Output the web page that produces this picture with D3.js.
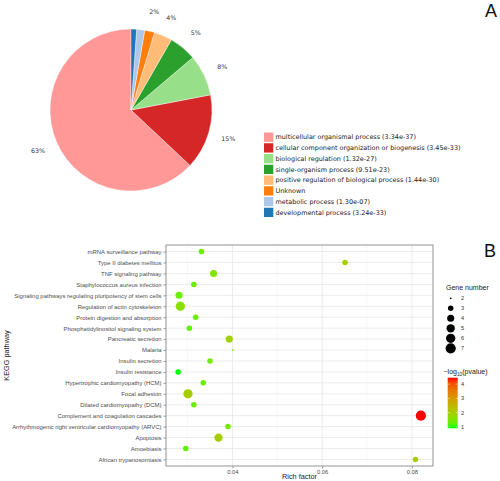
<!DOCTYPE html>
<html>
<head>
<meta charset="utf-8">
<script src="https://cdn.jsdelivr.net/npm/d3@7"></script>
<style>
html,body{margin:0;padding:0;background:#fff;}
svg{display:block;}
</style>
</head>
<body>
<svg id="chart" width="500" height="481"></svg>
<script>
// ---------- Panel A data ----------
const goTerms = [
  "multicellular organismal process (3.34e-37)",
  "cellular component organization or biogenesis (3.45e-33)",
  "biological regulation (1.32e-27)",
  "single-organism process (9.51e-23)",
  "positive regulation of biological process (1.44e-30)",
  "Unknown",
  "metabolic process (1.30e-07)",
  "developmental process (3.24e-33)"
];
const goShares = [63, 15, 8.2, 5.5, 3.6, 2.0, 1.6, 1.1];
const goPctLabels = ["63%", "15%", "8%", "5%", "4%", "2%", "", ""];
const goColors = ["#ff9896", "#d62728", "#98df8a", "#2ca02c", "#ffbb78", "#ff7f0e", "#aec7e8", "#1f77b4"];

// ---------- Panel B data ----------
const pathways = [
  "mRNA surveillance pathway",
  "Type II diabetes mellitus",
  "TNF signaling pathway",
  "Staphylococcus aureus infection",
  "Signaling pathways regulating pluripotency of stem cells",
  "Regulation of actin cytoskeleton",
  "Protein digestion and absorption",
  "Phosphatidylinositol signaling system",
  "Pancreatic secretion",
  "Malaria",
  "Insulin secretion",
  "Insulin resistance",
  "Hypertrophic cardiomyopathy (HCM)",
  "Focal adhesion",
  "Dilated cardiomyopathy (DCM)",
  "Complement and coagulation cascades",
  "Arrhythmogenic right ventricular cardiomyopathy (ARVC)",
  "Apoptosis",
  "Amoebiasis",
  "African trypanosomiasis"
];
const richFactor = [0.0331, 0.0651, 0.0358, 0.0314, 0.0281, 0.0284, 0.0318, 0.0304, 0.0393, 0.0401,
                    0.0350, 0.0279, 0.0335, 0.0301, 0.0314, 0.0820, 0.0390, 0.0369, 0.0296, 0.0808];
const geneNumber = [3, 3, 4, 3, 4, 6, 3, 3, 4, 2, 3, 3, 3, 6, 3, 7, 3, 5, 3, 3];
const negLogP = [1.3, 2.0, 1.5, 1.3, 1.3, 1.6, 1.3, 1.2, 1.9, 1.3, 1.4, 0.9, 1.3, 2.0, 1.3, 4.45, 1.4, 2.0, 1.2, 2.0];
const xTicks = [0.04, 0.06, 0.08];
const xMinorTicks = [0.03, 0.05, 0.07];
const sizeBreaks = [2, 3, 4, 5, 6, 7];
const colorBreaks = [1, 2, 3, 4];

const svg = d3.select("#chart");

// ================= Panel A: pie =================
const pieFont = "'DejaVu Sans', sans-serif";
const cx = 131, cy = 110, R = 81;
const pie = d3.pie().sort(null).startAngle(0).endAngle(-2 * Math.PI);
const arcs = pie(goShares);
const arc = d3.arc().innerRadius(0).outerRadius(R);
const labelArc = d3.arc().innerRadius(R * 1.25).outerRadius(R * 1.25);
const gPie = svg.append("g").attr("transform", `translate(${cx},${cy})`);
gPie.selectAll("path").data(arcs).join("path")
  .attr("d", arc)
  .attr("fill", (d, i) => goColors[i])
  .attr("stroke", "#ffffff").attr("stroke-width", 0.4);
gPie.selectAll("text").data(arcs).join("text")
  .attr("transform", d => `translate(${labelArc.centroid(d)})`)
  .attr("text-anchor", "middle").attr("dominant-baseline", "central")
  .attr("font-family", pieFont).attr("font-size", 6.3).attr("fill", "#333")
  .text((d, i) => goPctLabels[i]);

// legend A
const legA = svg.append("g").attr("transform", "translate(264,132.5)");
const legRow = 10.75;
goTerms.forEach((t, i) => {
  const g = legA.append("g").attr("transform", `translate(0,${i * legRow})`);
  g.append("rect").attr("x", 0).attr("y", 0).attr("width", 9.3).attr("height", 9.3).attr("fill", goColors[i]);
  g.append("text").attr("x", 11.5).attr("y", 4.8).attr("dominant-baseline", "central")
    .attr("font-family", pieFont).attr("font-size", 6.45).attr("fill", "#222").text(t);
});

svg.append("text").attr("x", 491).attr("y", 17).attr("text-anchor", "middle")
  .attr("font-family", "'Liberation Sans', Arial, sans-serif").attr("font-size", 18).attr("fill", "#111").text("A");

// ================= Panel B: bubble chart =================
const bFont = "'Liberation Sans', Arial, sans-serif";
const pL = 166, pR = 433, pT = 245, pB = 466;
const ext = d3.extent(richFactor);
const pad = (ext[1] - ext[0]) * 0.05;
const x = d3.scaleLinear().domain([ext[0] - pad, ext[1] + pad]).range([pL, pR]);
const step = (pB - pT) / (pathways.length - 1 + 1.2);
const y = d3.scalePoint().domain(pathways).range([pT + 0.6 * step, pB - 0.6 * step]);
const sizeScale = n => 0.85 * (1 + 5 * Math.sqrt((n - 2) / 5));
const cExt = d3.extent(negLogP);
const color = d3.scaleLinear().domain(cExt).range(["#00ff00", "#ff0000"]).interpolate(d3.interpolateLab);

const gB = svg.append("g");
gB.append("rect").attr("x", pL).attr("y", pT).attr("width", pR - pL).attr("height", pB - pT).attr("fill", "#fff");
gB.selectAll("line.minor").data(xMinorTicks).join("line").attr("class", "minor")
  .attr("x1", d => x(d)).attr("x2", d => x(d)).attr("y1", pT).attr("y2", pB)
  .attr("stroke", "#f2f2f2").attr("stroke-width", 0.5);
gB.selectAll("line.vmaj").data(xTicks).join("line").attr("class", "vmaj")
  .attr("x1", d => x(d)).attr("x2", d => x(d)).attr("y1", pT).attr("y2", pB)
  .attr("stroke", "#e6e6e6").attr("stroke-width", 0.8);
gB.selectAll("line.hmaj").data(pathways).join("line").attr("class", "hmaj")
  .attr("x1", pL).attr("x2", pR).attr("y1", d => y(d)).attr("y2", d => y(d))
  .attr("stroke", "#e6e6e6").attr("stroke-width", 0.8);

const yAxis = d3.axisLeft(y).tickSize(2.5).tickPadding(2);
const gy = gB.append("g").attr("transform", `translate(${pL},0)`).call(yAxis);
gy.select(".domain").remove();
gy.selectAll("line").attr("stroke", "#555").attr("stroke-width", 0.6);
gy.selectAll("text").attr("font-family", bFont).attr("font-size", 5.95).attr("fill", "#4d4d4d");

const xAxis = d3.axisBottom(x).tickValues(xTicks).tickFormat(d3.format(".2f")).tickSize(2.5).tickPadding(1.5);
const gx = gB.append("g").attr("transform", `translate(0,${pB})`).call(xAxis);
gx.select(".domain").remove();
gx.selectAll("line").attr("stroke", "#555").attr("stroke-width", 0.6);
gx.selectAll("text").attr("font-family", bFont).attr("font-size", 5.8).attr("fill", "#4d4d4d");

const pts = pathways.map((p, i) => ({p, x: richFactor[i], n: geneNumber[i], c: negLogP[i]}));
gB.selectAll("circle.pt").data(pts).join("circle").attr("class", "pt")
  .attr("cx", d => x(d.x)).attr("cy", d => y(d.p)).attr("r", d => sizeScale(d.n))
  .attr("fill", d => color(d.c));

gB.append("rect").attr("x", pL).attr("y", pT).attr("width", pR - pL).attr("height", pB - pT)
  .attr("fill", "none").attr("stroke", "#888").attr("stroke-width", 0.9);

svg.append("text").attr("x", (pL + pR) / 2).attr("y", 478.5).attr("text-anchor", "middle")
  .attr("font-family", bFont).attr("font-size", 7.3).attr("fill", "#222").text("Rich factor");
svg.append("text").attr("transform", `translate(9,${(pT + pB) / 2}) rotate(-90)`).attr("text-anchor", "middle")
  .attr("font-family", bFont).attr("font-size", 7.3).attr("fill", "#222").text("KEGG pathway");

svg.append("text").attr("x", 446).attr("y", 289.5).attr("font-family", bFont).attr("font-size", 7)
  .attr("fill", "#222").text("Gene number");
const sl = svg.append("g");
sizeBreaks.forEach((n, i) => {
  const yy = 298.3 + i * 10;
  sl.append("circle").attr("cx", 450.7).attr("cy", yy).attr("r", sizeScale(n)).attr("fill", "#000");
  sl.append("text").attr("x", 461).attr("y", yy).attr("dominant-baseline", "central")
    .attr("font-family", bFont).attr("font-size", 5.6).attr("fill", "#333").text(n);
});

const ct = svg.append("text").attr("x", 443.5).attr("y", 374).attr("font-family", bFont).attr("font-size", 7).attr("fill", "#222");
ct.append("tspan").text("\u2212log");
ct.append("tspan").attr("font-size", 4.8).attr("dy", 1.8).text("10");
ct.append("tspan").attr("dy", -1.8).text("(pvalue)");

const barTop = 377.7, barBot = 428.3, barX = 447.7, barW = 10;
const cy2 = d3.scaleLinear().domain(cExt).range([barBot, barTop]);
const defs = svg.append("defs");
const grad = defs.append("linearGradient").attr("id", "cbar").attr("x1", 0).attr("y1", 1).attr("x2", 0).attr("y2", 0);
d3.range(0, 1.0001, 0.1).forEach(t => {
  grad.append("stop").attr("offset", t).attr("stop-color", color(cExt[0] + t * (cExt[1] - cExt[0])));
});
svg.append("rect").attr("x", barX).attr("y", barTop).attr("width", barW).attr("height", barBot - barTop).attr("fill", "url(#cbar)");
const cl = svg.append("g");
colorBreaks.forEach(v => {
  const yy = cy2(v);
  cl.append("line").attr("x1", barX).attr("x2", barX + 2).attr("y1", yy).attr("y2", yy).attr("stroke", "#fff").attr("stroke-width", 0.5);
  cl.append("line").attr("x1", barX + barW - 2).attr("x2", barX + barW).attr("y1", yy).attr("y2", yy).attr("stroke", "#fff").attr("stroke-width", 0.5);
  cl.append("text").attr("x", 461).attr("y", yy).attr("dominant-baseline", "central")
    .attr("font-family", bFont).attr("font-size", 5.6).attr("fill", "#333").text(v);
});

svg.append("text").attr("x", 490).attr("y", 257).attr("text-anchor", "middle")
  .attr("font-family", bFont).attr("font-size", 18).attr("fill", "#111").text("B");
</script>
</body>
</html>
